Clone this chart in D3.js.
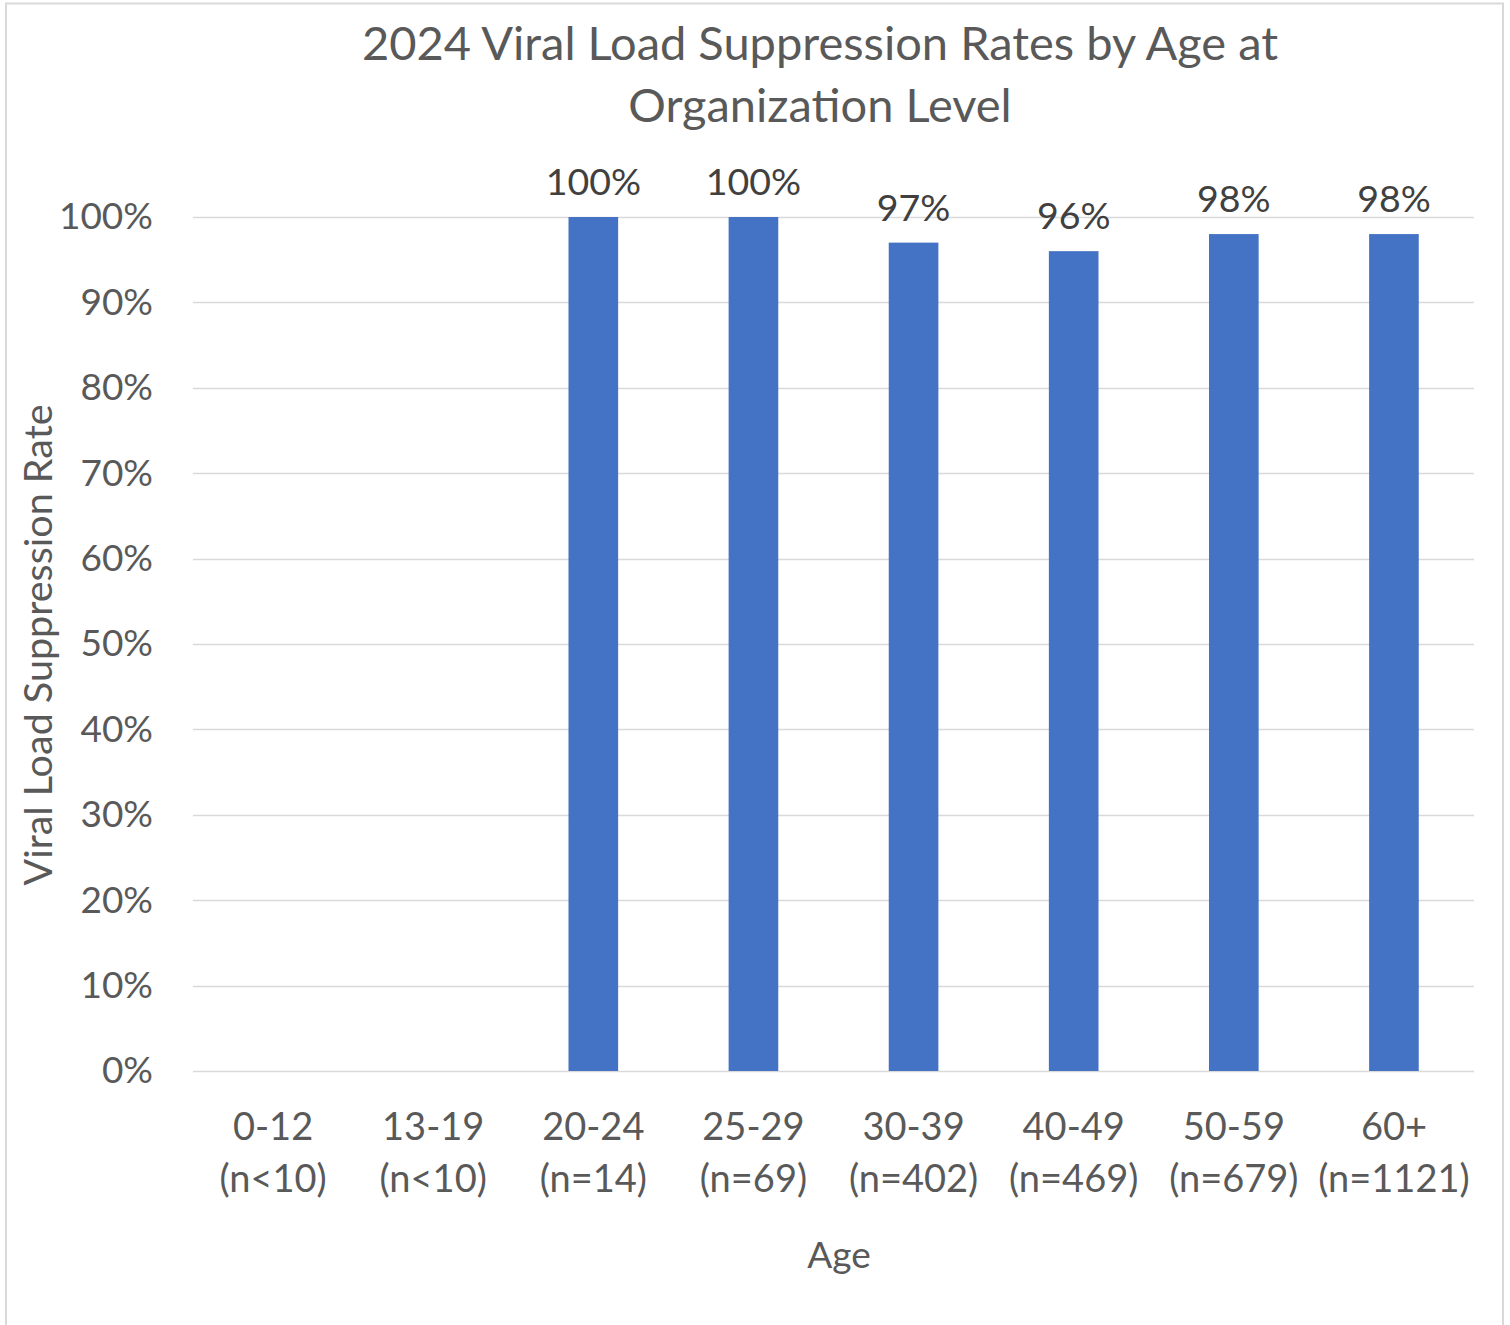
<!DOCTYPE html>
<html lang="en">
<head>
<meta charset="utf-8">
<title>2024 Viral Load Suppression Rates by Age</title>
<script src="https://d3js.org/d3.v7.min.js"></script>
<style>
  body { margin: 0; background: #fff; }
  text { font-family: Lato, 'Open Sans', sans-serif; }
</style>
</head>
<body>
<div id="chart"></div>
<script>
/* global d3 */

var ageGroups = ["0-12", "13-19", "20-24", "25-29", "30-39", "40-49", "50-59", "60+"];
var sampleSizes = ["(n<10)", "(n<10)", "(n=14)", "(n=69)", "(n=402)", "(n=469)", "(n=679)", "(n=1121)"];
var rates = [null, null, 1.00, 1.00, 0.97, 0.96, 0.98, 0.98];
var yTicks = [0, 0.1, 0.2, 0.3, 0.4, 0.5, 0.6, 0.7, 0.8, 0.9, 1.0];
var titleLines = ["2024 Viral Load Suppression Rates by Age at", "Organization Level"];

var width = 1510,
    height = 1325,
    margin = {top: 217, right: 36, bottom: 254, left: 193};

var svg = d3.select("#chart").append("svg")
    .attr("width", width)
    .attr("height", height);

// chart frame
svg.append("rect")
    .attr("x", 6).attr("y", 3.5)
    .attr("width", 1497).attr("height", 1340)
    .attr("fill", "#fff")
    .attr("stroke", "#d9d9d9")
    .attr("stroke-width", 2);

var x = d3.scaleBand()
    .domain(ageGroups)
    .range([margin.left, width - margin.right])
    .paddingInner(0.69)
    .paddingOuter(0.345);

var y = d3.scaleLinear()
    .domain([0, 1])
    .range([height - margin.bottom, margin.top]);

var pct = d3.format(".0%");

// gridlines
svg.append("g")
    .selectAll("line")
    .data(yTicks)
    .join("line")
    .attr("x1", margin.left)
    .attr("x2", width - margin.right)
    .attr("y1", d => Math.round(y(d)) + 0.5)
    .attr("y2", d => Math.round(y(d)) + 0.5)
    .attr("stroke", "#d9d9d9")
    .attr("stroke-width", 1.5);

// y axis labels
var yAxis = svg.append("g")
    .attr("transform", "translate(" + (margin.left - 40) + ",0)")
    .call(d3.axisLeft(y).tickValues(yTicks).tickFormat(pct).tickSize(0).tickPadding(0));
yAxis.select(".domain").remove();
yAxis.selectAll("text")
    .attr("fill", "#595959")
    .style("font-size", "37px")
    .style("font-family", "Lato, 'Open Sans', sans-serif");

// bars
var withValue = ageGroups.map((g, i) => ({group: g, value: rates[i]})).filter(d => d.value != null);

svg.append("g")
    .selectAll("rect")
    .data(withValue)
    .join("rect")
    .attr("x", d => x(d.group))
    .attr("y", d => y(d.value))
    .attr("width", x.bandwidth())
    .attr("height", d => y(0) - y(d.value))
    .attr("fill", "#4472c4");

// data labels
svg.append("g")
    .selectAll("text")
    .data(withValue)
    .join("text")
    .attr("x", d => x(d.group) + x.bandwidth() / 2)
    .attr("y", d => y(d.value) - 22)
    .attr("text-anchor", "middle")
    .attr("fill", "#404040")
    .style("font-size", "37.5px")
    .text(d => pct(d.value));

// x axis labels, two lines
var xAxis = svg.append("g")
    .attr("transform", "translate(0," + y(0) + ")")
    .call(d3.axisBottom(x).tickSize(0).tickFormat(""));
xAxis.select(".domain").remove();
xAxis.selectAll(".tick").each(function(d, i) {
    var t = d3.select(this).append("text")
        .attr("text-anchor", "middle")
        .attr("fill", "#595959")
        .style("font-size", "38px");
    t.append("tspan").attr("x", 0).attr("y", 69).text(d);
    t.append("tspan").attr("x", 0).attr("y", 121).text(sampleSizes[i]);
});

// title
svg.append("text")
    .attr("text-anchor", "middle")
    .attr("fill", "#595959")
    .style("font-size", "47px")
    .selectAll("tspan")
    .data(titleLines)
    .join("tspan")
    .attr("x", 820)
    .attr("y", (d, i) => 60 + i * 62)
    .text(d => d);

// axis titles
svg.append("text")
    .attr("x", 839)
    .attr("y", 1268)
    .attr("text-anchor", "middle")
    .attr("fill", "#595959")
    .style("font-size", "37px")
    .text("Age");

svg.append("text")
    .attr("transform", "translate(52," + 645 + ") rotate(-90)")
    .attr("text-anchor", "middle")
    .attr("fill", "#595959")
    .style("font-size", "39.5px")
    .text("Viral Load Suppression Rate");
</script>
</body>
</html>
